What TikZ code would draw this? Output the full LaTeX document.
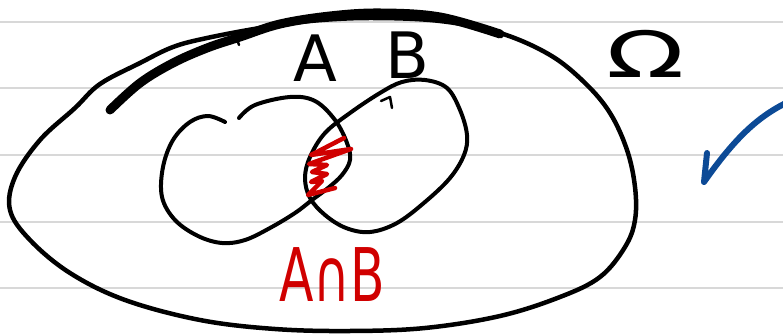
\documentclass[tikz,border=0pt]{standalone}
\usepackage{fontspec}
\usepackage{graphicx}
\setmainfont{DejaVu Sans}
\usetikzlibrary{positioning}
\definecolor{penred}{RGB}{208,0,0}
\definecolor{penblue}{RGB}{12,74,150}
\definecolor{ruling}{RGB}{216,216,216}
\tikzset{
  % notebook ruling
  rule/.style    = {ruling, line width=2pt},
  % hand-drawn black outlines
  outline/.style = {black, line width=4.5pt, line cap=round, line join=round},
  setline/.style = {black, line width=4pt, line cap=round, line join=round},
  % red hatching of the overlap
  hatch/.style   = {penred, line width=4.5pt, line cap=round, line join=round},
  % blue tick mark
  tick/.style    = {penblue, line width=6pt, line cap=round, line join=round},
  % labels
  lbl/.style     = {inner sep=0pt, font=\fontsize{64}{64}\selectfont},
}

\begin{document}
\begin{tikzpicture}[x=1pt, y=-1pt]
  \useasboundingbox (0,0) rectangle (783,336);

  % --- ruled paper ---
  \foreach \ry in {22,88,155,222,288}
    \draw[rule] (0,\ry) -- (783,\ry);

  % --- sample space Omega ---
  \draw[outline] plot[smooth cycle, tension=0.6] coordinates {
    (370,18) (440,21) (500,33) (550,55) (585,83) (610,113) (627,150)
    (635,187) (635,220) (625,247) (600,277) (560,297) (500,316) (425,328)
    (350,331) (275,329) (200,320) (125,300) (70,273) (30,240) (10,210)
    (15,177) (40,140) (75,108) (100,84) (140,63) (173,47) (207,38) (260,28) (310,21)};
  % heavy overstroke along the top
  \draw[outline, line width=9pt] plot[smooth, tension=0.6] coordinates {
    (110,110) (140,83) (173,63) (207,48) (240,37) (280,24) (330,16) (380,13) (440,17) (500,34)};
  \draw[outline, line width=2.5pt] (236,36) -- (239,45);

  % --- set A ---
  \draw[setline] plot[smooth, tension=0.6] coordinates {
    (239,118) (255,105) (290,97) (315,101) (335,120) (347,143) (350,160)
    (342,175) (328,188) (312,200) (295,213) (270,228) (245,240) (222,243)
    (198,236) (175,220) (162,197) (163,167) (173,140) (190,122) (208,116) (225,122)};

  % --- set B ---
  \draw[setline] plot[smooth cycle, tension=0.6] coordinates {
    (425,80) (447,88) (460,110) (467,135) (464,155) (450,178) (425,202)
    (397,223) (370,232) (346,228) (325,215) (310,198) (305,178) (310,157)
    (325,133) (350,113) (380,93) (402,82)};
  \draw[setline, line width=2.5pt] (381,101) -- (390,97) -- (392,108);

  % --- overlap hatching ---
  \draw[hatch] (344,138) -- (311,155) -- (351,149) -- (309,164) -- (327,165)
    -- (312,172) -- (327,174) -- (311,182) -- (322,181) -- (308,195) -- (335,188);

  % --- labels ---
  \node[lbl] (labA) at (315,58) {A};
  \node[lbl] (labB) at (407,55) {B};
  \node[lbl] (labOmega) at (646,54) {\scalebox{1.6}[1]{Ω}};
  \node[lbl, penred, font=\fontsize{74}{74}\selectfont] (labAB) at (332,275)
       {\scalebox{0.68}[1]{A∩B}};

  % --- check mark ---
  \draw[tick] (707,153) -- (704,182) .. controls (735,138) and (758,116) .. (790,101);

\end{tikzpicture}
\end{document}
